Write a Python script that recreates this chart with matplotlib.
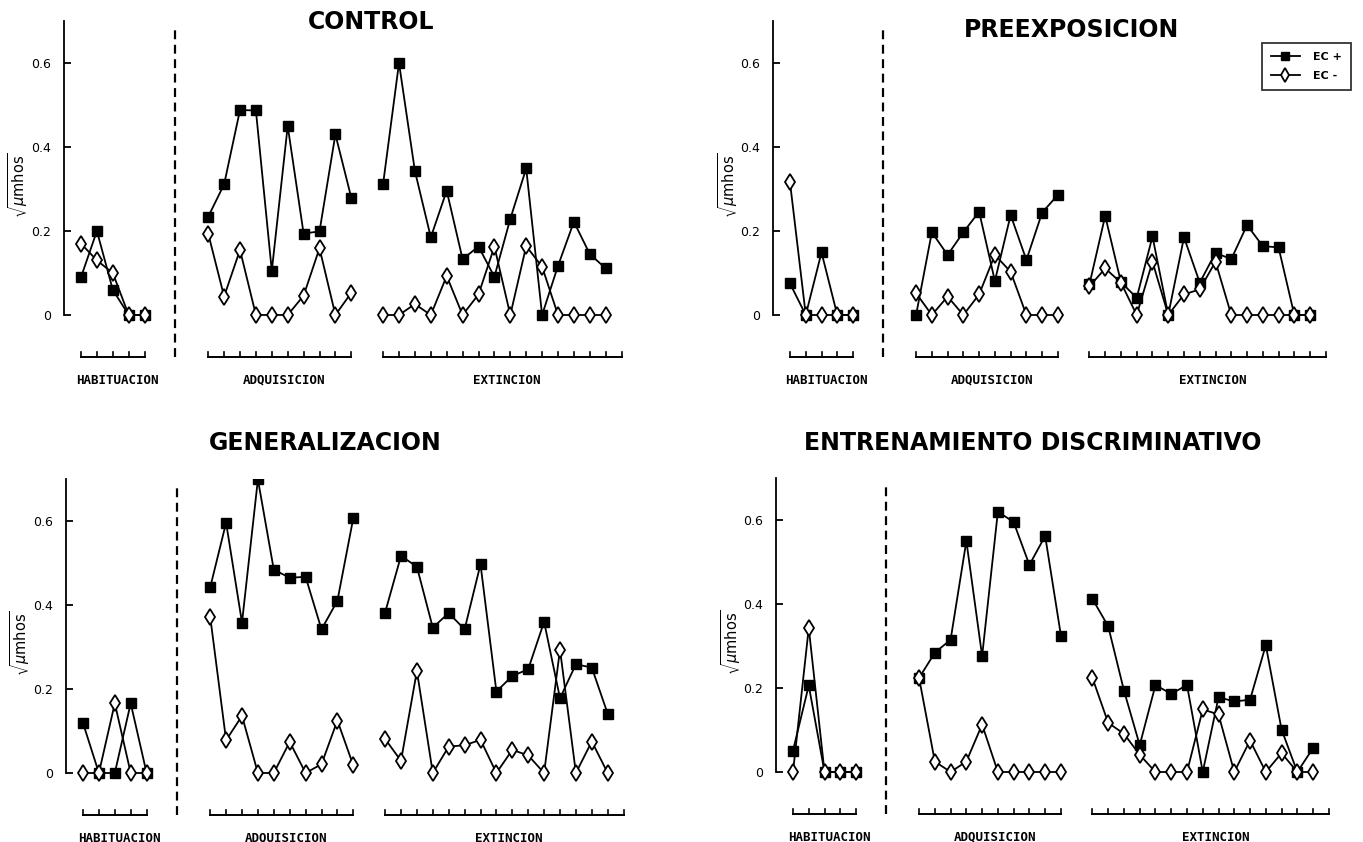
import matplotlib
matplotlib.use('Agg')
import matplotlib.pyplot as plt
from matplotlib.lines import Line2D

W, H = 1363, 842

# ---- data ----
# CONTROL
ctl_hab_plus = [0.09, 0.20, 0.06, 0.0, 0.0]
ctl_hab_minus = [0.17, 0.13, 0.10, 0.0, 0.0]
ctl_adq_plus = [0.234, 0.311, 0.488, 0.487, 0.105, 0.45, 0.194, 0.199, 0.43, 0.279]
ctl_adq_minus = [0.194, 0.044, 0.155, 0.0, 0.0, 0.0, 0.046, 0.159, 0.0, 0.053]
ctl_ext_plus = [0.312, 0.60, 0.343, 0.185, 0.296, 0.133, 0.163, 0.091, 0.229, 0.349, 0.0, 0.117, 0.222, 0.145, 0.111]
ctl_ext_minus = [0.0, 0.0, 0.026, 0.0, 0.093, 0.0, 0.049, 0.163, 0.0, 0.164, 0.115, 0.0, 0.0, 0.0, 0.0]

# PREEXPOSICION
pre_hab_plus = [0.075, 0.0, 0.149, 0.0, 0.0]
pre_hab_minus = [0.316, 0.0, 0.0, 0.0, 0.0]
pre_adq_plus = [0.0, 0.197, 0.143, 0.197, 0.246, 0.081, 0.238, 0.131, 0.244, 0.286]
pre_adq_minus = [0.052, 0.0, 0.044, 0.0, 0.049, 0.143, 0.103, 0.0, 0.0, 0.0]
pre_ext_plus = [0.073, 0.236, 0.078, 0.041, 0.187, 0.0, 0.185, 0.077, 0.148, 0.133, 0.214, 0.164, 0.161, 0.0, 0.0]
pre_ext_minus = [0.068, 0.111, 0.077, 0.0, 0.127, 0.0, 0.049, 0.061, 0.127, 0.0, 0.0, 0.0, 0.0, 0.0, 0.0]

# GENERALIZACION
gen_hab_plus = [0.119, 0.0, 0.0, 0.166, 0.0]
gen_hab_minus = [0.0, 0.0, 0.166, 0.0, 0.0]
gen_adq_plus = [0.442, 0.596, 0.358, 0.699, 0.484, 0.465, 0.467, 0.342, 0.41, 0.607]
gen_adq_minus = [0.372, 0.078, 0.136, 0.0, 0.0, 0.074, 0.0, 0.021, 0.125, 0.018]
gen_ext_plus = [0.382, 0.517, 0.491, 0.346, 0.381, 0.342, 0.497, 0.194, 0.231, 0.247, 0.36, 0.178, 0.259, 0.251, 0.141]
gen_ext_minus = [0.081, 0.029, 0.243, 0.0, 0.063, 0.066, 0.079, 0.0, 0.055, 0.042, 0.0, 0.294, 0.0, 0.075, 0.0]

# ENTRENAMIENTO DISCRIMINATIVO
ent_hab_plus = [0.051, 0.206, 0.0, 0.0, 0.0]
ent_hab_minus = [0.0, 0.343, 0.0, 0.0, 0.0]
ent_adq_plus = [0.224, 0.284, 0.315, 0.55, 0.276, 0.62, 0.595, 0.493, 0.562, 0.325]
ent_adq_minus = [0.224, 0.025, 0.0, 0.025, 0.113, 0.0, 0.0, 0.0, 0.0, 0.0]
ent_ext_plus = [0.412, 0.347, 0.194, 0.064, 0.207, 0.186, 0.207, 0.0, 0.178, 0.168, 0.172, 0.302, 0.101, 0.0, 0.057]
ent_ext_minus = [0.224, 0.117, 0.091, 0.041, 0.0, 0.0, 0.0, 0.149, 0.137, 0.0, 0.075, 0.0, 0.045, 0.0, 0.0]

phase_names = ['HABITUACION', 'ADQUISICION', 'EXTINCION']
phase_start = [0, 8, 19]      # trial index of first point of each phase
phase_ticks = [5, 10, 16]     # ticks on each phase baseline
yticks = [0, 0.2, 0.4, 0.6]
ytick_labels = ['0', '0.2', '0.4', '0.6']
legend_labels = ['EC +', 'EC -']

panels = [
    # title, data, first-point px, y-zero px, px per trial, title pos
    ('CONTROL', [ctl_hab_plus, ctl_hab_minus, ctl_adq_plus, ctl_adq_minus, ctl_ext_plus, ctl_ext_minus],
     81, 315, 15.9, (371, 22)),
    ('PREEXPOSICION', [pre_hab_plus, pre_hab_minus, pre_adq_plus, pre_adq_minus, pre_ext_plus, pre_ext_minus],
     790, 315, 15.76, (1072, 30)),
    ('GENERALIZACION', [gen_hab_plus, gen_hab_minus, gen_adq_plus, gen_adq_minus, gen_ext_plus, gen_ext_minus],
     83, 773, 15.9, (325, 443)),
    ('ENTRENAMIENTO DISCRIMINATIVO', [ent_hab_plus, ent_hab_minus, ent_adq_plus, ent_adq_minus, ent_ext_plus, ent_ext_minus],
     793, 772, 15.76, (1033, 443)),
]

PX_PER_UNIT_Y = 420
YMIN, YMAX = -0.17, 0.7
XMIN, XMAX = -1.1, 35

fig = plt.figure(figsize=(W / 100, H / 100), dpi=100)

sq_style = dict(color='black', lw=1.3, marker='s', markersize=7.5, markerfacecolor='black',
                markeredgecolor='black', zorder=3)
di_style = dict(color='black', lw=1.3, marker='d', markersize=8, markerfacecolor='white',
                markeredgecolor='black', markeredgewidth=1.3, zorder=4)

for title, series, first_px, y0_px, unit, tpos in panels:
    left_px = first_px + XMIN * unit
    width_px = (XMAX - XMIN) * unit
    top_px = y0_px - YMAX * PX_PER_UNIT_Y
    bottom_px = y0_px - YMIN * PX_PER_UNIT_Y
    ax = fig.add_axes([left_px / W, 1 - bottom_px / H, width_px / W, (bottom_px - top_px) / H])
    ax.set_xlim(XMIN, XMAX)
    ax.set_ylim(YMIN, YMAX)
    ax.patch.set_alpha(0)

    for k, start in enumerate(phase_start):
        plus = series[2 * k]
        minus = series[2 * k + 1]
        xs = list(range(start, start + len(plus)))
        ax.plot(xs, minus, **di_style)
        ax.plot(xs, plus, **sq_style)

        # phase baseline with small ticks
        tx = list(range(start, start + phase_ticks[k]))
        ax.plot([tx[0], tx[-1]], [-0.1, -0.1], color='black', lw=1.4, clip_on=False)
        for t in tx:
            ax.plot([t, t], [-0.1, -0.088], color='black', lw=1.2, clip_on=False)
        ax.text((tx[0] + tx[-1]) / 2 + 0.3, -0.155, phase_names[k], ha='center', va='center',
                fontsize=9, fontweight='bold', family='DejaVu Sans Mono')

    # dashed separator between habituation and acquisition
    ax.plot([5.9, 5.9], [-0.1, 0.69], color='black', lw=1.6, linestyle=(0, (4, 2.5)))

    for s in ['top', 'right', 'bottom']:
        ax.spines[s].set_visible(False)
    ax.spines['left'].set_bounds(0, 0.7)
    ax.spines['left'].set_linewidth(1.3)
    ax.set_xticks([])
    ax.set_yticks(yticks)
    ax.set_yticklabels(ytick_labels)
    ax.tick_params(axis='y', direction='in', length=5, width=1.3, pad=9, labelsize=9)

    ax.text(-45 / width_px, 0.31, r'$\sqrt{\mu\mathrm{mhos}}$', rotation=90, ha='center', va='center',
            fontsize=10.5, transform=ax.get_yaxis_transform())

    fig.text(tpos[0] / W, 1 - tpos[1] / H, title, ha='center', va='center', fontsize=17,
             fontweight='bold', family='DejaVu Sans')

leg_sq = dict(sq_style, markersize=6)
leg_di = dict(di_style, markersize=7)
handles = [Line2D([], [], **leg_sq), Line2D([], [], **leg_di)]
leg = fig.legend(handles, legend_labels, loc='upper left', bbox_to_anchor=(1262 / W, 1 - 43 / H),
                 frameon=True, fancybox=False, edgecolor='black', fontsize=8, handlelength=2.6,
                 handletextpad=1.2, borderpad=0.8, borderaxespad=0, labelspacing=0.8)
leg.get_frame().set_linewidth(1.3)
for t in leg.get_texts():
    t.set_fontweight('bold')

fig.savefig('out.png', dpi=100)
